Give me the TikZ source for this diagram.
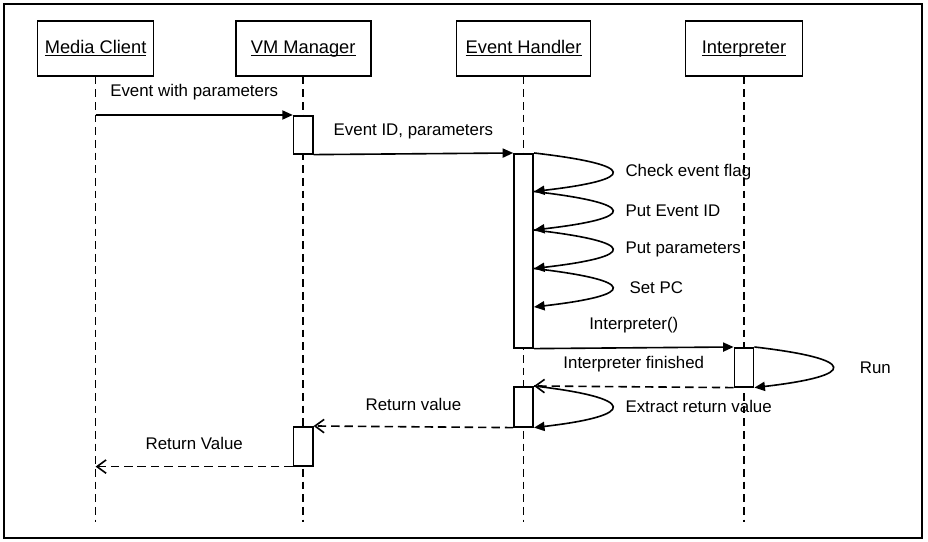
\documentclass[tikz,border=0pt]{standalone}
\usepackage{fontspec}
\setmainfont{Liberation Sans}
\usetikzlibrary{arrows.meta,positioning,calc}
\newcommand{\objname}[1]{\underline{\raisebox{0pt}[\height][0pt]{#1}}}
\begin{document}
\begin{tikzpicture}[>={Triangle[length=7.5pt,width=6.5pt]}, scale=1, line width=1.15pt,
	obj/.style={draw, minimum height=1.375cm, inner sep=0pt, font=\fontsize{13}{15}\selectfont},
	act/.style={draw, fill=white, minimum width=0.48cm, inner sep=0pt, anchor=north},
	lifeline/.style={dash pattern=on 5.5pt off 3.5pt},
	call/.style={->},
	reply/.style={-{Straight Barb[length=6.5pt,width=9.5pt]}, dash pattern=on 6pt off 3.5pt},
	lbl/.style={font=\fontsize{12}{14}\selectfont}]
	\useasboundingbox (0,0) rectangle (23.2,13.55);
	\draw[line width=1.4pt] (0.09,0.1) rectangle (23.06,13.45);
	% objects and lifelines
	\node[obj, minimum width=2.9cm] (mc) at (2.39,12.34) {\objname{Media Client}};
	\node[obj, minimum width=3.375cm] (vm) at (7.58,12.34) {\objname{VM Manager}};
	\node[obj, minimum width=3.35cm] (eh) at (13.09,12.34) {\objname{Event Handler}};
	\node[obj, minimum width=2.925cm] (ip) at (18.6,12.34) {\objname{Interpreter}};
	\foreach \n in {mc,vm,eh,ip}
		\draw[lifeline] (\n.south) -- (\n.south |- 0,0.5);
	% activations
	\node[act, minimum height=0.95cm] (vma1) at (vm.south |- 0,10.675) {};
	\node[act, minimum height=4.85cm] (eha1) at (eh.south |- 0,9.725) {};
	\node[act, minimum height=0.975cm] (ipa1) at (ip.south |- 0,4.875) {};
	\node[act, minimum height=1cm] (eha2) at (eh.south |- 0,3.9) {};
	\node[act, minimum height=0.975cm] (vma2) at (vm.south |- 0,2.9) {};
	\coordinate (mcin) at (mc.south |- vma1.north);
	\coordinate (mcout) at (mc.south |- vma2.south);
	\foreach \i in {0,...,4}
		\coordinate (ehp\i) at ($(eha1.north east)+(0,-0.9625*\i)$);
	% messages
	\draw[call] (mcin) -- (vma1.north west) node[lbl, midway, yshift=0.57cm] {Event with parameters};
	\draw[call] (vma1.south east) -- (eha1.north west) node[lbl, midway, yshift=0.57cm] {Event ID, parameters};
	\foreach \i/\j/\txt/\gap in {0/1/Check event flag/0.2, 1/2/Put Event ID/0.2, 2/3/Put parameters/0.2, 3/4/Set PC/0.3}
		\draw[call] (ehp\i) .. controls +(2.6,-0.3) and +(2.6,0.3) .. (ehp\j) node[lbl, pos=0.5, right=\gap cm] {\txt};
	\draw[call] (eha1.south east) -- (ipa1.north west) node[lbl, midway, yshift=0.57cm] {Interpreter()};
	\draw[call] (ipa1.north east) .. controls +(2.6,-0.3) and +(2.6,0.3) .. (ipa1.south east) node[lbl, pos=0.5, right=0.55cm] {Run};
	\draw[reply] (ipa1.south west) -- (eha2.north east) node[lbl, midway, yshift=0.57cm] {Interpreter finished};
	\draw[call] (eha2.north east) .. controls +(2.6,-0.3) and +(2.6,0.3) .. (eha2.south east) node[lbl, pos=0.5, right=0.2cm] {Extract return value};
	\draw[reply] (eha2.south west) -- (vma2.north east) node[lbl, midway, yshift=0.57cm] {Return value};
	\draw[reply] (vma2.south west) -- (mcout) node[lbl, midway, yshift=0.57cm] {Return Value};
\end{tikzpicture}
\end{document}
